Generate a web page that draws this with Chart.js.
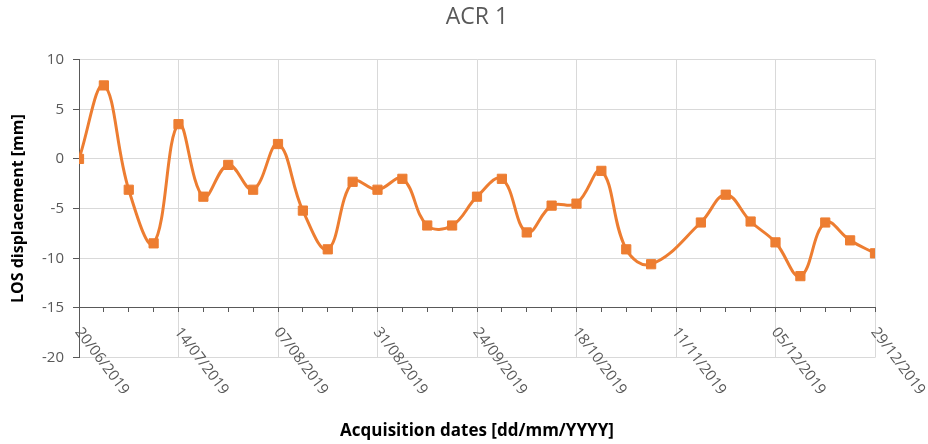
<!DOCTYPE html>
<html>
<head>
<meta charset="utf-8">
<script src="https://cdn.jsdelivr.net/npm/chart.js@4.4.1/dist/chart.umd.min.js"></script>
<style>
  html, body { margin: 0; padding: 0; background: #fff; }
  #wrap { width: 928px; height: 444px; }
</style>
</head>
<body>
<div id="wrap"><canvas id="acrChart"></canvas></div>
<script>
// acquisition dates (Sentinel-1, 6 day revisit, 11/11 missing)
const dates = [
  "20/06/2019", "26/06/2019", "02/07/2019", "08/07/2019", "14/07/2019", "20/07/2019",
  "26/07/2019", "01/08/2019", "07/08/2019", "13/08/2019", "19/08/2019", "25/08/2019",
  "31/08/2019", "06/09/2019", "12/09/2019", "18/09/2019", "24/09/2019", "30/09/2019",
  "06/10/2019", "12/10/2019", "18/10/2019", "24/10/2019", "30/10/2019", "05/11/2019",
  "17/11/2019", "23/11/2019", "29/11/2019", "05/12/2019", "11/12/2019", "17/12/2019",
  "23/12/2019", "29/12/2019"
];
const losValues = [
  0, 7.4, -3.1, -8.5, 3.5, -3.8,
  -0.6, -3.1, 1.5, -5.2, -9.1, -2.3,
  -3.1, -2.0, -6.7, -6.7, -3.8, -2.0,
  -7.4, -4.7, -4.5, -1.2, -9.1, -10.6,
  -6.4, -3.6, -6.3, -8.4, -11.8, -6.4,
  -8.2, -9.5
];
const dateTicks = [
  "20/06/2019", "14/07/2019", "07/08/2019", "31/08/2019", "24/09/2019",
  "18/10/2019", "11/11/2019", "05/12/2019", "29/12/2019"
];
const yMin = -20;
const yMax = 10;
const yStep = 5;
const axisCross = -15; // horizontal axis crosses here

const toDay = (s) => {
  const [d, m, y] = s.split("/").map(Number);
  return Date.UTC(y, m - 1, d) / 86400000;
};
const day0 = toDay(dateTicks[0]);
const lastDay = toDay(dateTicks[dateTicks.length - 1]) - day0;
const majorStep = toDay(dateTicks[1]) - day0;

const points = dates.map((d, i) => ({ x: toDay(d) - day0, y: losValues[i] }));

const axisGrey = "#595959";
const gridGrey = "#d9d9d9";
const orange = "#ED7D31";

// rotated date labels hanging under the axis line
const dateLabels = {
  id: "dateLabels",
  afterDraw(chart) {
    const { ctx, scales: { x, y } } = chart;
    const baseY = y.getPixelForValue(axisCross);
    ctx.save();
    ctx.font = '15px "Open Sans"';
    ctx.fillStyle = axisGrey;
    ctx.textAlign = "left";
    ctx.textBaseline = "top";
    dateTicks.forEach((label) => {
      const px = x.getPixelForValue(toDay(label) - day0);
      ctx.save();
      ctx.translate(px + 5, baseY + 17);
      ctx.rotate(53 * Math.PI / 180);
      ctx.fillText(label, 0, 0);
      ctx.restore();
    });
    ctx.restore();
  },
};

new Chart(document.getElementById("acrChart"), {
  type: "line",
  data: {
    datasets: [
      {
        data: points,
        borderColor: orange,
        backgroundColor: orange,
        borderWidth: 3,
        tension: 0.4,
        pointStyle: "rect",
        pointRadius: 6.5,
        pointBorderWidth: 1,
        pointBackgroundColor: orange,
        pointBorderColor: orange,
      },
    ],
  },
  options: {
    responsive: true,
    maintainAspectRatio: false,
    animation: false,
    layout: { padding: { left: 0, right: 53, top: 0, bottom: 0 } },
    plugins: {
      legend: { display: false },
      tooltip: { enabled: false },
      title: {
        display: true,
        fullSize: false,
        text: "ACR 1",
        color: axisGrey,
        font: { family: "Open Sans", size: 23, weight: "normal" },
        padding: { top: 4, bottom: 28 },
      },
      subtitle: {
        display: true,
        position: "bottom",
        fullSize: false,
        text: "Acquisition dates [dd/mm/YYYY]",
        color: "#000",
        font: { family: "Open Sans", size: 17, weight: "bold" },
        padding: { top: 63, bottom: 3 },
      },
    },
    scales: {
      x: {
        type: "linear",
        position: { y: axisCross },
        min: 0,
        max: lastDay,
        ticks: { display: false, stepSize: 6 },
        grid: {
          color: (c) => (c.tick && c.tick.value !== 0 && c.tick.value % majorStep === 0 ? gridGrey : "transparent"),
          tickColor: axisGrey,
          tickLength: 4,
        },
        border: { color: axisGrey, width: 1 },
      },
      y: {
        min: yMin,
        max: yMax,
        afterFit: (scale) => { scale.width = 79; },
        ticks: {
          stepSize: yStep,
          color: axisGrey,
          padding: 9,
          font: { family: "Open Sans", size: 15 },
        },
        grid: {
          color: (c) => (c.tick && c.tick.value === axisCross ? "transparent" : gridGrey),
          tickColor: axisGrey,
          tickLength: 6,
        },
        border: { color: axisGrey, width: 1 },
        title: {
          display: true,
          text: "LOS displacement [mm]",
          color: "#000",
          font: { family: "Open Sans", size: 16, weight: "bold" },
          padding: { top: 9, bottom: 0 },
        },
      },
    },
  },
  plugins: [dateLabels],
});
</script>
</body>
</html>
